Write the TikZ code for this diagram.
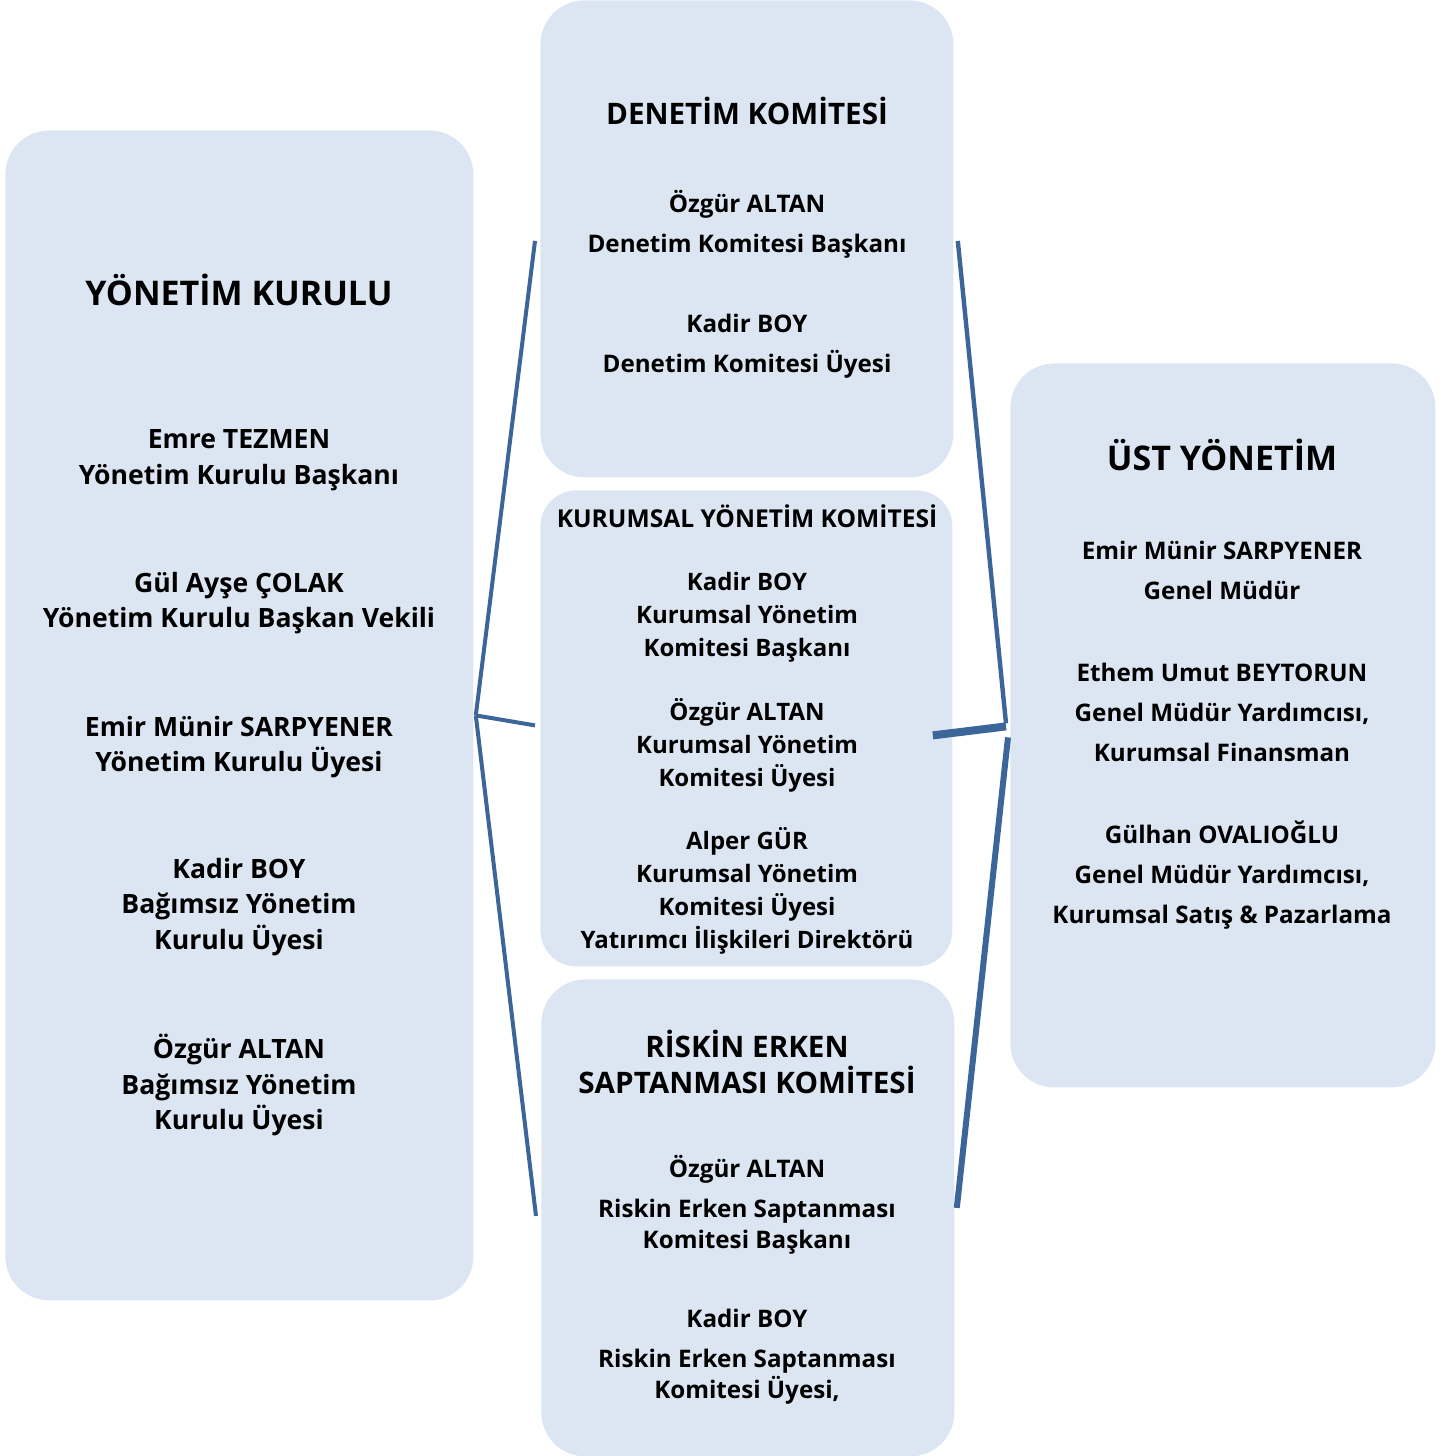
\documentclass[tikz,border=0pt]{standalone}
\usepackage{fontspec}
\setmainfont{Open Sans}
\usetikzlibrary{positioning,calc}
\definecolor{panelfill}{HTML}{DCE6F2}
\definecolor{linkblue}{HTML}{3C6599}
\tikzset{
  panel/.style = {fill = panelfill, rounded corners = 22pt, inner sep = 0, anchor = north west},
  bigtitle/.style = {font = \bfseries\fontsize{17}{20}\selectfont, align = center},
  title/.style = {font = \bfseries\fontsize{14.8}{18}\selectfont, align = center},
  smalltitle/.style = {font = \bfseries\fontsize{12.3}{16}\selectfont, align = center},
  member/.style = {font = \bfseries\fontsize{13.3}{17.7}\selectfont, align = center},
  duty/.style = {font = \bfseries\fontsize{12.1}{20}\selectfont, align = center},
  tight/.style = {font = \bfseries\fontsize{12}{16.5}\selectfont, align = center},
  link/.style = {draw = linkblue, line width = 2pt},
}

\begin{document}
\begin{tikzpicture}[x = 0.5pt, y = -0.5pt]
\useasboundingbox (0, 0) rectangle (1450, 1456);
% panels
\node [panel, minimum width = 234pt, minimum height = 585pt] (yk) at (5, 130) {};
\node [panel, minimum width = 206.5pt, minimum height = 238.5pt] (dk) at (540, 0) {};
\node [panel, minimum width = 206pt, minimum height = 238pt, rounded corners = 18pt] (kyk) at (540, 490) {};
\node [panel, minimum width = 206.5pt, minimum height = 238.5pt] (rsk) at (541, 979) {};
\node [panel, minimum width = 212.5pt, minimum height = 362pt] (uy) at (1010, 363) {};

% yonetim kurulu
\node [bigtitle] (ykT) at (239, 290) {YÖNETİM KURULU};
\node [member] (yk1) at (239, 460) {Emre TEZMEN\\Yönetim Kurulu Başkanı};
\node [member] (yk2) at (239, 603) {Gül Ayşe ÇOLAK\\Yönetim Kurulu Başkan Vekili};
\node [member] (yk3) at (239, 747) {Emir Münir SARPYENER\\Yönetim Kurulu Üyesi};
\node [member] (yk4) at (239, 907) {Kadir BOY\\Bağımsız Yönetim\\Kurulu Üyesi};
\node [member] (yk5) at (239, 1085) {Özgür ALTAN\\Bağımsız Yönetim\\Kurulu Üyesi};

% denetim komitesi
\node [title] (dkT) at (747, 111) {DENETİM KOMİTESİ};
\node [duty] (dk1) at (747, 224) {Özgür ALTAN\\Denetim Komitesi Başkanı};
\node [duty] (dk2) at (747, 346) {Kadir BOY\\Denetim Komitesi Üyesi};

% kurumsal yonetim komitesi
\node [smalltitle] (kykT) at (747, 516) {KURUMSAL YÖNETİM KOMİTESİ};
\node [tight] (kyk1) at (747, 617) {Kadir BOY\\Kurumsal Yönetim\\Komitesi Başkanı};
\node [tight] (kyk2) at (747, 745) {Özgür ALTAN\\Kurumsal Yönetim\\Komitesi Üyesi};
\node [tight] (kyk3) at (747, 891) {Alper GÜR\\Kurumsal Yönetim\\Komitesi Üyesi\\Yatırımcı İlişkileri Direktörü};

% riskin erken saptanmasi komitesi
\node [title] (rskT) at (747, 1062) {RİSKİN ERKEN\\SAPTANMASI KOMİTESİ};
\node [duty] (rsk1) at (747, 1205) {Özgür ALTAN\\Riskin Erken Saptanması\\[-4.5pt]Komitesi Başkanı};
\node [duty] (rsk2) at (747, 1357) {Kadir BOY\\Riskin Erken Saptanması\\[-4.5pt]Komitesi Üyesi,};

% ust yonetim
\node [bigtitle] (uyT) at (1222, 455) {ÜST YÖNETİM};
\node [duty] (uy1) at (1222, 570) {Emir Münir SARPYENER\\Genel Müdür};
\node [duty] (uy2) at (1222, 712) {Ethem Umut BEYTORUN\\Genel Müdür Yardımcısı,\\Kurumsal Finansman};
\node [duty] (uy3) at (1222, 875) {Gülhan OVALIOĞLU\\Genel Müdür Yardımcısı,\\Kurumsal Satış \& Pazarlama};

% connectors
\coordinate (ykTip) at ([xshift = 1pt] yk.east);
\coordinate (uyTip) at ([xshift = -2pt] uy.west);
\draw [link] (ykTip) -- ([xshift = -2.5pt, yshift = -1pt] dk.west);
\draw [link] (ykTip) -- ([xshift = -2.5pt, yshift = 1.5pt] kyk.west);
\draw [link] (ykTip) -- ([xshift = -2.5pt, yshift = 1pt] rsk.west);
\draw [link, line width = 2.2pt] ([xshift = 2pt, yshift = -1pt] dk.east) -- ([yshift = 1pt] uyTip);
\draw [link, line width = 4pt] ([xshift = -10pt, yshift = -3.5pt] kyk.east) -- ([yshift = -0.5pt] uyTip);
\draw [link, line width = 3pt] ([xshift = 1pt, yshift = 5pt] rsk.east) -- ([xshift = 1pt, yshift = -6pt] uyTip);
\end{tikzpicture}
\end{document}
